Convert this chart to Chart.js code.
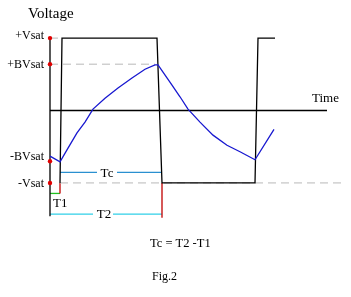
<!DOCTYPE html>
<html>
<head>
<meta charset="utf-8">
<script src="https://cdn.jsdelivr.net/npm/chart.js@4/dist/chart.umd.min.js"></script>
<style>
  html, body { margin: 0; padding: 0; background: #fff; }
  #wrap { position: relative; width: 351px; height: 297px; }
</style>
</head>
<body>
<div id="wrap"><canvas id="fig" width="351" height="297"></canvas></div>
<script>
// voltage levels (in units of Vsat) and their names
const levelNames = ['+Vsat', '+BVsat', '-BVsat', '-Vsat'];
const levelValues = [1, 0.64, -0.70, -1];

// comparator output (square wave)
const squareT = [0.10, 0.12, 1.07, 1.12, 2.05, 2.08, 2.25];
const squareV = [-1, 1, 1, -1, -1, 1, 1];

// capacitor voltage
const curveT = [0, 0.10, 0.18, 0.27, 0.35, 0.43, 0.55, 0.68, 0.82, 0.95, 1.05, 1.08,
                1.13, 1.22, 1.30, 1.38, 1.50, 1.63, 1.77, 1.90, 2.05, 2.24];
const curveV = [-0.63, -0.71, -0.52, -0.31, -0.16, 0.02, 0.17, 0.31, 0.45, 0.57, 0.63, 0.63,
                0.53, 0.35, 0.19, 0.02, -0.16, -0.34, -0.48, -0.57, -0.68, -0.26];

// timing marks
const T1 = 0.10;
const T2 = 1.12;
const timeEnd = 2.77;

const pts = (xs, ys) => xs.map((x, i) => ({x: x, y: ys[i]}));
const gap = {x: 0, y: null};

// little helper so every segment dataset looks the same
function seg(data, color, extra) {
  return Object.assign({
    data: data,
    borderColor: color,
    borderWidth: 1.3,
    pointRadius: 0,
    fill: false,
    tension: 0,
    spanGaps: false,
    clip: false
  }, extra || {});
}

const textPlugin = {
  id: 'figText',
  afterDraw(chart) {
    const ctx = chart.ctx;
    const y = chart.scales.y;
    const x = chart.scales.x;
    ctx.save();
    ctx.fillStyle = '#000';
    ctx.textBaseline = 'alphabetic';

    ctx.font = '15px "Liberation Serif"';
    ctx.textAlign = 'left';
    ctx.fillText('Voltage', 28, 18);

    // level labels next to the voltage axis
    const nudge = [1, 4, -1, 4];
    ctx.font = '12px "Liberation Serif"';
    ctx.textAlign = 'right';
    levelNames.forEach((name, i) => {
      ctx.fillText(name, x.getPixelForValue(0) - 6, y.getPixelForValue(levelValues[i]) + nudge[i]);
    });

    ctx.textAlign = 'left';
    ctx.font = '13px "Liberation Serif"';
    ctx.fillText('Time', 312, 102);

    ctx.fillText('T1', x.getPixelForValue(0) + 3, 207);
    ctx.textAlign = 'center';
    ctx.fillText('Tc', 107, 177);
    ctx.fillText('T2', 104, 218);

    ctx.textAlign = 'left';
    ctx.font = '12.5px "Liberation Serif"';
    ctx.fillText('Tc = T2 -T1', 150, 247);
    ctx.font = '12px "Liberation Serif"';
    ctx.fillText('Fig.2', 152, 280);
    ctx.restore();
  }
};

new Chart(document.getElementById('fig'), {
  type: 'line',
  data: {
    datasets: [
      // red dots on the voltage axis
      seg(levelValues.map(v => ({x: 0, y: v})), '#d00000',
          {showLine: false, pointRadius: 2.2, pointBackgroundColor: '#e00000', pointBorderWidth: 0}),
      // capacitor voltage
      seg(pts(curveT, curveV), '#1818d0'),
      // output square wave
      seg(pts(squareT, squareV), '#000'),
      // axes
      seg([{x: 0, y: 0}, {x: timeEnd, y: 0}], '#000'),
      seg([{x: 0, y: 1}, {x: 0, y: -1.46}], '#000'),
      // dashed reference levels
      seg([{x: 0, y: 1}, {x: 0.12, y: 1}, gap,
           {x: 0, y: 0.64}, {x: 1.05, y: 0.64}, gap,
           {x: T1, y: -1}, {x: 2.92, y: -1}], '#b8b8b8', {borderDash: [8, 5], borderWidth: 1}),
      // T1 / T2 markers
      seg([{x: T1, y: -1}, {x: T1, y: -1.145}, gap,
           {x: T2, y: -1}, {x: T2, y: -1.48}], '#c00000'),
      seg([{x: 0, y: -1.145}, {x: T1, y: -1.145}], '#20c020'),
      seg([{x: T1, y: -0.855}, {x: 0.47, y: -0.855}, gap,
           {x: 0.67, y: -0.855}, {x: T2, y: -0.855}], '#2a90d0'),
      seg([{x: 0, y: -1.43}, {x: 0.43, y: -1.43}, gap,
           {x: 0.63, y: -1.43}, {x: T2, y: -1.43}], '#30d0e8')
    ]
  },
  options: {
    responsive: false,
    animation: false,
    layout: { padding: { left: 50, right: 6, top: 20, bottom: 67 } },
    plugins: { legend: { display: false }, tooltip: { enabled: false } },
    scales: {
      x: { type: 'linear', min: 0, max: 2.95, display: false },
      y: { type: 'linear', min: -1.65, max: 1.25, display: false }
    }
  },
  plugins: [textPlugin]
});
</script>
</body>
</html>
